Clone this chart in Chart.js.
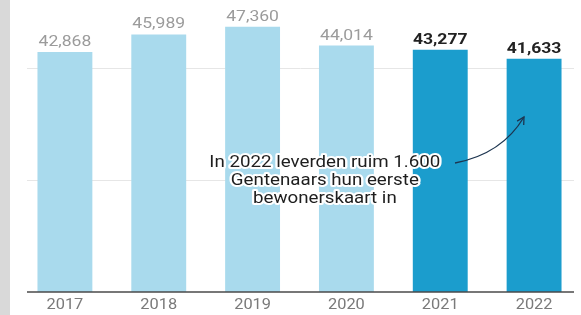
<!DOCTYPE html>
<html>
<head>
<meta charset="utf-8">
<script src="https://cdn.jsdelivr.net/npm/chart.js@4"></script>
<style>
  html, body { margin: 0; padding: 0; background: #fff; }
  #wrap { width: 581px; height: 315px; }
</style>
</head>
<body>
<div id="wrap"><canvas id="myChart" width="581" height="315"></canvas></div>
<script>
// data
const years = ['2017', '2018', '2019', '2020', '2021', '2022'];
const permits = [42868, 45989, 47360, 44014, 43277, 41633];
const highlight = [false, false, false, false, true, true];
const gridValues = [20000, 40000];
const noteLines = ['In 2022 leverden ruim 1.600', 'Gentenaars hun eerste', 'bewonerskaart in'];

const lightBlue = '#a9daed';
const darkBlue = '#1b9dcd';
const SX = 1.17; // text in the source is a bit stretched sideways

function stretchedText(ctx, txt, x, y, halo) {
  ctx.save();
  ctx.translate(x, y);
  ctx.scale(SX, 1);
  if (halo) {
    ctx.strokeStyle = '#fff';
    ctx.lineWidth = 4;
    ctx.lineJoin = 'round';
    ctx.strokeText(txt, 0, 0);
  }
  ctx.fillText(txt, 0, 0);
  ctx.restore();
}

const decor = {
  id: 'decor',
  beforeDraw(chart) {
    const ctx = chart.ctx;
    const y = chart.scales.y;
    ctx.save();
    ctx.fillStyle = '#fff';
    ctx.fillRect(0, 0, chart.width, chart.height);
    ctx.fillStyle = '#d9d9d9';
    ctx.fillRect(0, 0, 10, chart.height);
    // gridlines
    ctx.strokeStyle = '#e6e6e6';
    ctx.lineWidth = 1;
    gridValues.forEach(v => {
      const py = Math.round(y.getPixelForValue(v)) + 0.5;
      ctx.beginPath();
      ctx.moveTo(27, py);
      ctx.lineTo(574, py);
      ctx.stroke();
    });
    ctx.restore();
  },
  afterDraw(chart) {
    const ctx = chart.ctx;
    const x = chart.scales.x;
    const y = chart.scales.y;
    const meta = chart.getDatasetMeta(0);
    ctx.save();
    // baseline
    ctx.strokeStyle = '#4a4a4a';
    ctx.lineWidth = 1.5;
    const by = y.getPixelForValue(0);
    ctx.beginPath();
    ctx.moveTo(27, by);
    ctx.lineTo(574, by);
    ctx.stroke();

    // value labels
    ctx.textAlign = 'center';
    ctx.textBaseline = 'alphabetic';
    meta.data.forEach((bar, i) => {
      ctx.font = (highlight[i] ? 'bold ' : '') + '15px Roboto';
      ctx.fillStyle = highlight[i] ? '#222' : '#9b9b9b';
      stretchedText(ctx, permits[i].toLocaleString('en-US'), bar.x, bar.y - 6, false);
    });

    // year labels
    ctx.font = '14px Roboto';
    ctx.fillStyle = '#7a7a7a';
    ctx.textBaseline = 'middle';
    years.forEach((lab, i) => {
      stretchedText(ctx, lab, x.getPixelForValue(i), 305, false);
    });

    // note
    const area = chart.chartArea;
    const cx = area.left + (area.right - area.left) * 0.545;
    ctx.font = '16px Roboto';
    ctx.fillStyle = '#1e1e1e';
    noteLines.forEach((t, i) => {
      stretchedText(ctx, t, cx, 163 + i * 18, true);
    });

    // arrow
    ctx.strokeStyle = '#1d3550';
    ctx.lineWidth = 1.3;
    ctx.beginPath();
    ctx.moveTo(455, 163);
    ctx.quadraticCurveTo(502, 154, 524, 117);
    ctx.stroke();
    const ang = Math.atan2(117 - 154, 524 - 502);
    ctx.beginPath();
    ctx.moveTo(524 - 8 * Math.cos(ang - 0.5), 117 - 8 * Math.sin(ang - 0.5));
    ctx.lineTo(524, 117);
    ctx.lineTo(524 - 8 * Math.cos(ang + 0.5), 117 - 8 * Math.sin(ang + 0.5));
    ctx.stroke();
    ctx.restore();
  }
};

var myChart = new Chart(document.getElementById('myChart'), {
  type: 'bar',
  data: {
    labels: years,
    datasets: [{
      data: permits,
      backgroundColor: highlight.map(h => h ? darkBlue : lightBlue),
      borderWidth: 0,
      barPercentage: 0.585,
      categoryPercentage: 1
    }]
  },
  options: {
    responsive: false,
    animation: false,
    layout: { padding: { left: 18, right: 0, top: 12, bottom: 23 } },
    plugins: {
      legend: { display: false },
      tooltip: { enabled: false }
    },
    scales: {
      x: {
        display: false
      },
      y: {
        display: false,
        min: 0,
        max: 50000
      }
    }
  },
  plugins: [decor]
});
</script>
</body>
</html>
